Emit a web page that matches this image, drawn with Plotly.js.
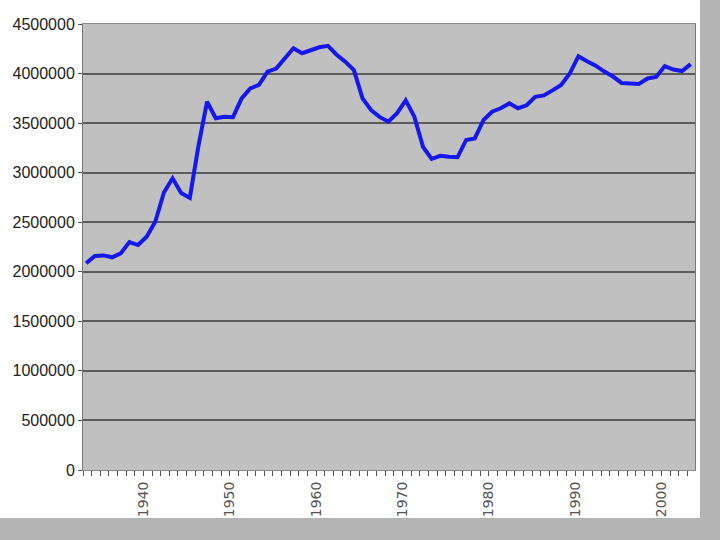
<!DOCTYPE html>
<html>
<head>
<meta charset="utf-8">
<script src="https://cdn.plot.ly/plotly-3.0.1.min.js"></script>
<style>
  html, body { margin: 0; padding: 0; background: #b4b4b4; width: 720px; height: 540px; overflow: hidden; }
  #chart { position: absolute; left: 0; top: 0; width: 700px; height: 518px; background: #ffffff; }
</style>
</head>
<body>
<div id="chart"></div>
<script>
// Years 1933-2003
const years = [];
for (let y = 1933; y <= 2003; y++) years.push(y);

// Values
const births = [
  2086000, 2160000, 2165000, 2146000, 2186000, 2300000, 2270000, 2354000, 2505000, 2800000,
  2943000, 2795000, 2745000, 3270000, 3716000, 3550000, 3565000, 3560000, 3750000, 3850000,
  3885000, 4020000, 4050000, 4155000, 4255000, 4205000, 4240000, 4265000, 4280000, 4190000,
  4120000, 4035000, 3750000, 3630000, 3560000, 3515000, 3600000, 3730000, 3565000, 3260000,
  3140000, 3170000, 3160000, 3155000, 3330000, 3345000, 3530000, 3615000, 3650000, 3700000,
  3650000, 3680000, 3765000, 3780000, 3830000, 3885000, 4000000, 4175000, 4125000, 4080000,
  4020000, 3970000, 3905000, 3900000, 3895000, 3950000, 3965000, 4075000, 4040000, 4025000,
  4095000
];

const yTicks = [0, 500000, 1000000, 1500000, 2000000, 2500000, 3000000, 3500000, 4000000, 4500000];
const decadeLabels = ['1940', '1950', '1960', '1970', '1980', '1990', '2000'];

const tickShift = -0.37;
const xTickVals = years.map(y => y + tickShift);
const xTickText = years.map(y => decadeLabels.includes(String(y)) ? String(y) : '');

const trace = {
  x: years,
  y: births,
  type: 'scatter',
  mode: 'lines',
  line: { color: '#1616ee', width: 4 },
  hoverinfo: 'x+y'
};

const layout = {
  width: 700,
  height: 518,
  margin: { l: 83, r: 5, t: 24, b: 48, pad: 0 },
  paper_bgcolor: '#ffffff',
  plot_bgcolor: '#c0c0c0',
  showlegend: false,
  xaxis: {
    range: [1933 + tickShift, 2003.5],
    tickmode: 'array',
    tickvals: xTickVals,
    ticktext: xTickText,
    tickangle: -90,
    ticks: 'outside',
    ticklen: 5,
    tickwidth: 1,
    tickcolor: '#555555',
    showgrid: false,
    zeroline: false,
    showline: true,
    linecolor: '#8c8c8c',
    linewidth: 1,
    mirror: true,
    tickfont: { family: 'DejaVu Sans, sans-serif', size: 14, color: '#555555' }
  },
  yaxis: {
    range: [0, 4500000],
    tickmode: 'array',
    tickvals: yTicks,
    ticktext: yTicks.map(v => String(v)),
    ticks: 'outside',
    ticklen: 4,
    tickcolor: '#555555',
    showgrid: true,
    gridcolor: '#5c5c5c',
    gridwidth: 2,
    zeroline: false,
    showline: true,
    linecolor: '#777777',
    linewidth: 1,
    mirror: true,
    tickfont: { family: 'Liberation Sans, Arial, sans-serif', size: 16, color: '#222222' }
  }
};

Plotly.newPlot('chart', [trace], layout, { displayModeBar: false, staticPlot: true });
</script>
</body>
</html>
